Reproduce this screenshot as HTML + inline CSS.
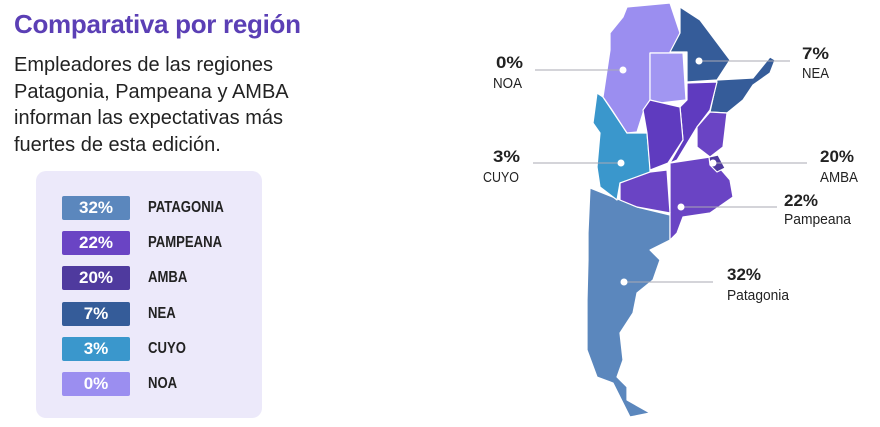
<!DOCTYPE html>
<html><head><meta charset="utf-8"><style>
body{margin:0;width:880px;height:427px;background:#fff;position:relative;overflow:hidden;font-family:"Liberation Sans",sans-serif}
.t{position:absolute;left:14px;top:9px;font-size:26px;font-weight:bold;color:#5b3fb5;letter-spacing:-0.3px}
.p{position:absolute;left:14px;top:52px;font-size:20px;line-height:26.7px;color:#222}
.box{position:absolute;left:36px;top:171px;width:226px;height:247px;background:#ece9fa;border-radius:10px}
.pill{position:absolute;left:62px;width:68px;height:24px;border-radius:2px;color:#fff;font-weight:bold;font-size:17px;text-align:center;line-height:24px}
.lb{position:absolute;left:148px;font-size:16px;font-weight:bold;color:#222;line-height:24px;transform:scaleX(.82);transform-origin:left}
.m{transform-origin:left}
</style></head><body>
<div class="t">Comparativa por región</div>
<div class="p">Empleadores de las regiones<br>Patagonia, Pampeana y AMBA<br>informan las expectativas más<br>fuertes de esta edición.</div>
<div class="box"></div>
<div class="pill" style="top:196px;background:#5b87bd">32%</div><div class="lb" style="top:196px">PATAGONIA</div>
<div class="pill" style="top:231px;background:#6a44c4">22%</div><div class="lb" style="top:231px">PAMPEANA</div>
<div class="pill" style="top:266px;background:#4f3a9e">20%</div><div class="lb" style="top:266px">AMBA</div>
<div class="pill" style="top:302px;background:#355c99">7%</div><div class="lb" style="top:302px">NEA</div>
<div class="pill" style="top:337px;background:#3a97cc">3%</div><div class="lb" style="top:337px">CUYO</div>
<div class="pill" style="top:372px;background:#9b8ef0">0%</div><div class="lb" style="top:372px">NOA</div>
<svg width="880" height="427" style="position:absolute;left:0;top:0" font-family="Liberation Sans,sans-serif">
<g stroke="#fff" stroke-width="1.2" stroke-linejoin="round">
<polygon fill="#5b87bd" points="590,188 620,200 637,207 670,215 670,240 650,250 660,260 653,280 637,293 633,313 620,333 623,360 617,377 627,387 627,400 650,413 630,417 613,383 597,377 587,350 587,300 588,260 588,233"/>
<polygon fill="#3a97cc" points="597,93 603,97 627,133 647,133 650,167 650,183 620,183 617,200 600,187 597,167 600,133 593,123"/>
<polygon fill="#9b8ef0" points="627,7 670,3 680,33 670,53 650,53 650,100 643,113 637,132 627,133 612,110 603,97 610,50 610,33 623,17"/>
<polygon fill="#a196f2" points="650,53 683,53 686,100 660,103 650,100"/>
<polygon fill="#355c99" points="680,7 700,20 730,60 717,80 687,82 687,52 670,52 680,33"/>
<polygon fill="#355c99" points="717,80 753,78 770,57 775,60 770,73 753,85 743,100 727,113 710,112"/>
<polygon fill="#5f3bbf" points="687,83 717,82 710,110 697,127 677,160 670,163 683,140 680,107 687,100"/>
<polygon fill="#5f3bbf" points="650,100 680,107 683,140 668,163 650,170 647,133 643,110"/>
<polygon fill="#6a44c4" points="727,113 723,147 710,157 697,147 697,127 710,112"/>
<polygon fill="#6a44c4" points="670,163 710,157 730,180 733,197 710,213 683,217 677,233 670,240"/>
<polygon fill="#6a44c4" points="620,183 650,172 667,170 670,213 637,207 620,200"/>
<polygon fill="#4f3a9e" points="709,157 718,155 725,168 717,172 710,165"/>
</g>
<g stroke="#a9a9b3" stroke-width="1">
<line x1="535" y1="70" x2="620" y2="70"/><line x1="700" y1="61" x2="790" y2="61"/>
<line x1="533" y1="163" x2="620" y2="163"/><line x1="713" y1="163" x2="807" y2="163"/>
<line x1="681" y1="207" x2="777" y2="207"/><line x1="624" y1="282" x2="713" y2="282"/>
</g>
<g fill="#fff"><circle cx="623" cy="70" r="3.5"/><circle cx="699" cy="61" r="3.5"/><circle cx="621" cy="163" r="3.5"/><circle cx="713" cy="163" r="3.5"/><circle cx="681" cy="207" r="3.5"/><circle cx="624" cy="282" r="3.5"/></g>
<g fill="#222" font-size="17">
<text x="496" y="68" font-weight="bold" textLength="27" lengthAdjust="spacingAndGlyphs">0%</text><text x="493" y="88" font-size="15" textLength="29" lengthAdjust="spacingAndGlyphs">NOA</text>
<text x="802" y="59" font-weight="bold" textLength="27" lengthAdjust="spacingAndGlyphs">7%</text><text x="802" y="78" font-size="15" textLength="27" lengthAdjust="spacingAndGlyphs">NEA</text>
<text x="493" y="162" font-weight="bold" textLength="27" lengthAdjust="spacingAndGlyphs">3%</text><text x="483" y="182" font-size="15" textLength="36" lengthAdjust="spacingAndGlyphs">CUYO</text>
<text x="820" y="162" font-weight="bold" textLength="34" lengthAdjust="spacingAndGlyphs">20%</text><text x="820" y="182" font-size="15" textLength="38" lengthAdjust="spacingAndGlyphs">AMBA</text>
<text x="784" y="206" font-weight="bold" textLength="34" lengthAdjust="spacingAndGlyphs">22%</text><text x="784" y="224" font-size="15" textLength="67" lengthAdjust="spacingAndGlyphs">Pampeana</text>
<text x="727" y="280" font-weight="bold" textLength="34" lengthAdjust="spacingAndGlyphs">32%</text><text x="727" y="300" font-size="15" textLength="62" lengthAdjust="spacingAndGlyphs">Patagonia</text>
</g>
</svg>
</body></html>
